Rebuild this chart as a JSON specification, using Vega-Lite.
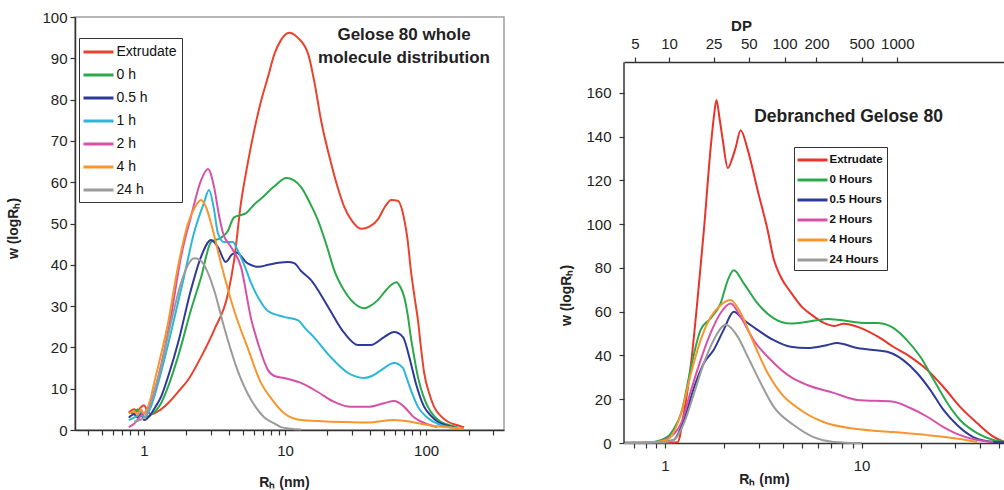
{
  "$schema": "https://vega.github.io/schema/vega-lite/v6.json",
  "background": "white",
  "padding": {"left": 5, "top": 9, "right": 0, "bottom": 0},
  "spacing": 54,
  "config": {
    "font": "Liberation Sans",
    "axis": {"grid": false, "domainColor": "#333", "domainWidth": 1.5, "tickColor": "#333", "tickWidth": 1.2, "tickSize": 5, "labelColor": "#222", "titleColor": "#222", "labelFont": "Liberation Sans", "titleFont": "Liberation Sans", "labelFontSize": 15, "titleFontSize": 14, "titleFontWeight": "bold", "labelOverlap": false, "labelFlush": false}
  },
  "datasets": {
    "whole": [
      {"series": "Extrudate", "Rh": 0.78, "w": 4.2}, {"series": "Extrudate", "Rh": 0.85, "w": 5.0}, {"series": "Extrudate", "Rh": 0.9, "w": 4.5}, {"series": "Extrudate", "Rh": 0.95, "w": 5.5}, {"series": "Extrudate", "Rh": 1.0, "w": 6.0}, {"series": "Extrudate", "Rh": 1.05, "w": 4.8}, {"series": "Extrudate", "Rh": 1.12, "w": 3.8}, {"series": "Extrudate", "Rh": 1.25, "w": 4.5}, {"series": "Extrudate", "Rh": 1.48, "w": 6.5}, {"series": "Extrudate", "Rh": 1.75, "w": 9.3}, {"series": "Extrudate", "Rh": 2.05, "w": 12.1}, {"series": "Extrudate", "Rh": 2.54, "w": 17.7}, {"series": "Extrudate", "Rh": 3.14, "w": 24.2}, {"series": "Extrudate", "Rh": 3.94, "w": 33}, {"series": "Extrudate", "Rh": 4.35, "w": 41}, {"series": "Extrudate", "Rh": 4.87, "w": 55}, {"series": "Extrudate", "Rh": 5.4, "w": 64}, {"series": "Extrudate", "Rh": 6.0, "w": 72}, {"series": "Extrudate", "Rh": 6.8, "w": 80}, {"series": "Extrudate", "Rh": 7.57, "w": 85.5}, {"series": "Extrudate", "Rh": 8.4, "w": 91}, {"series": "Extrudate", "Rh": 9.35, "w": 94.4}, {"series": "Extrudate", "Rh": 10.7, "w": 96.2}, {"series": "Extrudate", "Rh": 12.3, "w": 95}, {"series": "Extrudate", "Rh": 14.6, "w": 91}, {"series": "Extrudate", "Rh": 16.2, "w": 84}, {"series": "Extrudate", "Rh": 18, "w": 75}, {"series": "Extrudate", "Rh": 21.2, "w": 64.6}, {"series": "Extrudate", "Rh": 24, "w": 58}, {"series": "Extrudate", "Rh": 26.3, "w": 54}, {"series": "Extrudate", "Rh": 30, "w": 50.5}, {"series": "Extrudate", "Rh": 34.6, "w": 48.7}, {"series": "Extrudate", "Rh": 40, "w": 49.3}, {"series": "Extrudate", "Rh": 45.6, "w": 51}, {"series": "Extrudate", "Rh": 51, "w": 54}, {"series": "Extrudate", "Rh": 56.5, "w": 55.7}, {"series": "Extrudate", "Rh": 63, "w": 55.5}, {"series": "Extrudate", "Rh": 70, "w": 51}, {"series": "Extrudate", "Rh": 74, "w": 46}, {"series": "Extrudate", "Rh": 78, "w": 38.7}, {"series": "Extrudate", "Rh": 83, "w": 32}, {"series": "Extrudate", "Rh": 87.6, "w": 26.6}, {"series": "Extrudate", "Rh": 92, "w": 20}, {"series": "Extrudate", "Rh": 97, "w": 13.8}, {"series": "Extrudate", "Rh": 105, "w": 9}, {"series": "Extrudate", "Rh": 114, "w": 5.6}, {"series": "Extrudate", "Rh": 128, "w": 3.3}, {"series": "Extrudate", "Rh": 143, "w": 2}, {"series": "Extrudate", "Rh": 165, "w": 1.2}, {"series": "Extrudate", "Rh": 186, "w": 0.6},
      {"series": "0 h", "Rh": 0.78, "w": 4.5}, {"series": "0 h", "Rh": 0.85, "w": 4.0}, {"series": "0 h", "Rh": 0.9, "w": 5.0}, {"series": "0 h", "Rh": 0.95, "w": 4.2}, {"series": "0 h", "Rh": 1.0, "w": 3.1}, {"series": "0 h", "Rh": 1.1, "w": 3.5}, {"series": "0 h", "Rh": 1.2, "w": 4.5}, {"series": "0 h", "Rh": 1.32, "w": 6.5}, {"series": "0 h", "Rh": 1.5, "w": 11}, {"series": "0 h", "Rh": 1.74, "w": 17.7}, {"series": "0 h", "Rh": 2.15, "w": 29}, {"series": "0 h", "Rh": 2.54, "w": 37}, {"series": "0 h", "Rh": 2.99, "w": 45.5}, {"series": "0 h", "Rh": 3.5, "w": 46.5}, {"series": "0 h", "Rh": 3.9, "w": 48}, {"series": "0 h", "Rh": 4.35, "w": 51.5}, {"series": "0 h", "Rh": 5.3, "w": 52.5}, {"series": "0 h", "Rh": 6.0, "w": 54.5}, {"series": "0 h", "Rh": 6.75, "w": 56}, {"series": "0 h", "Rh": 8.4, "w": 59}, {"series": "0 h", "Rh": 10.2, "w": 61}, {"series": "0 h", "Rh": 11.5, "w": 60.5}, {"series": "0 h", "Rh": 13, "w": 58.8}, {"series": "0 h", "Rh": 15, "w": 55}, {"series": "0 h", "Rh": 17.1, "w": 50.8}, {"series": "0 h", "Rh": 20, "w": 44}, {"series": "0 h", "Rh": 22.3, "w": 38.7}, {"series": "0 h", "Rh": 26, "w": 34}, {"series": "0 h", "Rh": 29.3, "w": 31.5}, {"series": "0 h", "Rh": 36.3, "w": 29.5}, {"series": "0 h", "Rh": 40, "w": 30}, {"series": "0 h", "Rh": 45.6, "w": 31.5}, {"series": "0 h", "Rh": 51, "w": 33.5}, {"series": "0 h", "Rh": 56.5, "w": 35.1}, {"series": "0 h", "Rh": 61.3, "w": 35.8}, {"series": "0 h", "Rh": 66, "w": 34.5}, {"series": "0 h", "Rh": 70, "w": 32.2}, {"series": "0 h", "Rh": 74, "w": 28}, {"series": "0 h", "Rh": 78, "w": 22.5}, {"series": "0 h", "Rh": 83, "w": 17}, {"series": "0 h", "Rh": 87.6, "w": 12.8}, {"series": "0 h", "Rh": 95, "w": 8.5}, {"series": "0 h", "Rh": 103, "w": 5.6}, {"series": "0 h", "Rh": 115, "w": 3.2}, {"series": "0 h", "Rh": 127, "w": 2}, {"series": "0 h", "Rh": 145, "w": 1.2}, {"series": "0 h", "Rh": 167, "w": 0.6},
      {"series": "0.5 h", "Rh": 0.78, "w": 3.0}, {"series": "0.5 h", "Rh": 0.85, "w": 3.8}, {"series": "0.5 h", "Rh": 0.9, "w": 3.0}, {"series": "0.5 h", "Rh": 0.95, "w": 4.0}, {"series": "0.5 h", "Rh": 1.0, "w": 2.4}, {"series": "0.5 h", "Rh": 1.1, "w": 3.5}, {"series": "0.5 h", "Rh": 1.2, "w": 5.5}, {"series": "0.5 h", "Rh": 1.32, "w": 8}, {"series": "0.5 h", "Rh": 1.5, "w": 13.5}, {"series": "0.5 h", "Rh": 1.74, "w": 21}, {"series": "0.5 h", "Rh": 2.15, "w": 33.9}, {"series": "0.5 h", "Rh": 2.54, "w": 42}, {"series": "0.5 h", "Rh": 2.99, "w": 46}, {"series": "0.5 h", "Rh": 3.34, "w": 44.3}, {"series": "0.5 h", "Rh": 3.8, "w": 40.7}, {"series": "0.5 h", "Rh": 4.2, "w": 42.5}, {"series": "0.5 h", "Rh": 4.5, "w": 43}, {"series": "0.5 h", "Rh": 5.4, "w": 40.4}, {"series": "0.5 h", "Rh": 6.5, "w": 39.5}, {"series": "0.5 h", "Rh": 7.6, "w": 40}, {"series": "0.5 h", "Rh": 9, "w": 40.5}, {"series": "0.5 h", "Rh": 10.5, "w": 40.7}, {"series": "0.5 h", "Rh": 11.6, "w": 40.4}, {"series": "0.5 h", "Rh": 13, "w": 38.5}, {"series": "0.5 h", "Rh": 15.3, "w": 36.3}, {"series": "0.5 h", "Rh": 20.2, "w": 29.8}, {"series": "0.5 h", "Rh": 26.3, "w": 23.5}, {"series": "0.5 h", "Rh": 32.9, "w": 20.6}, {"series": "0.5 h", "Rh": 40.6, "w": 20.6}, {"series": "0.5 h", "Rh": 50.4, "w": 22.5}, {"series": "0.5 h", "Rh": 59.3, "w": 23.7}, {"series": "0.5 h", "Rh": 68.6, "w": 22.5}, {"series": "0.5 h", "Rh": 76, "w": 17.7}, {"series": "0.5 h", "Rh": 84.5, "w": 11.4}, {"series": "0.5 h", "Rh": 97, "w": 5.6}, {"series": "0.5 h", "Rh": 108, "w": 3.5}, {"series": "0.5 h", "Rh": 121, "w": 2}, {"series": "0.5 h", "Rh": 140, "w": 1.1}, {"series": "0.5 h", "Rh": 158, "w": 0.6},
      {"series": "1 h", "Rh": 0.78, "w": 2.4}, {"series": "1 h", "Rh": 0.85, "w": 3.0}, {"series": "1 h", "Rh": 0.9, "w": 3.5}, {"series": "1 h", "Rh": 0.95, "w": 4.5}, {"series": "1 h", "Rh": 1.0, "w": 3.0}, {"series": "1 h", "Rh": 1.1, "w": 5}, {"series": "1 h", "Rh": 1.26, "w": 11.4}, {"series": "1 h", "Rh": 1.55, "w": 23.5}, {"series": "1 h", "Rh": 1.92, "w": 37}, {"series": "1 h", "Rh": 2.26, "w": 47.7}, {"series": "1 h", "Rh": 2.66, "w": 55}, {"series": "1 h", "Rh": 2.89, "w": 58.1}, {"series": "1 h", "Rh": 3.14, "w": 53.3}, {"series": "1 h", "Rh": 3.34, "w": 47.7}, {"series": "1 h", "Rh": 3.69, "w": 45.5}, {"series": "1 h", "Rh": 4.27, "w": 45.5}, {"series": "1 h", "Rh": 4.6, "w": 43.6}, {"series": "1 h", "Rh": 5.2, "w": 39.5}, {"series": "1 h", "Rh": 5.74, "w": 35.6}, {"series": "1 h", "Rh": 6.6, "w": 31.5}, {"series": "1 h", "Rh": 7.57, "w": 28.8}, {"series": "1 h", "Rh": 9.8, "w": 27.4}, {"series": "1 h", "Rh": 12.3, "w": 26.6}, {"series": "1 h", "Rh": 14, "w": 24.5}, {"series": "1 h", "Rh": 16, "w": 22.5}, {"series": "1 h", "Rh": 21, "w": 17.7}, {"series": "1 h", "Rh": 28, "w": 13.8}, {"series": "1 h", "Rh": 36.3, "w": 12.6}, {"series": "1 h", "Rh": 42, "w": 13.2}, {"series": "1 h", "Rh": 48, "w": 14.5}, {"series": "1 h", "Rh": 59.3, "w": 16.2}, {"series": "1 h", "Rh": 68.6, "w": 15}, {"series": "1 h", "Rh": 73, "w": 12.5}, {"series": "1 h", "Rh": 78, "w": 9.7}, {"series": "1 h", "Rh": 87.6, "w": 5.6}, {"series": "1 h", "Rh": 103, "w": 2.9}, {"series": "1 h", "Rh": 127, "w": 1.2}, {"series": "1 h", "Rh": 153, "w": 0.6},
      {"series": "2 h", "Rh": 0.78, "w": 0.7}, {"series": "2 h", "Rh": 0.85, "w": 1.5}, {"series": "2 h", "Rh": 0.9, "w": 2.5}, {"series": "2 h", "Rh": 0.95, "w": 3.5}, {"series": "2 h", "Rh": 1.0, "w": 4.0}, {"series": "2 h", "Rh": 1.1, "w": 6}, {"series": "2 h", "Rh": 1.26, "w": 12.8}, {"series": "2 h", "Rh": 1.55, "w": 27.4}, {"series": "2 h", "Rh": 1.83, "w": 42}, {"series": "2 h", "Rh": 2.15, "w": 51.6}, {"series": "2 h", "Rh": 2.54, "w": 60.5}, {"series": "2 h", "Rh": 2.84, "w": 63.2}, {"series": "2 h", "Rh": 3.14, "w": 58.8}, {"series": "2 h", "Rh": 3.4, "w": 52}, {"series": "2 h", "Rh": 3.63, "w": 47.7}, {"series": "2 h", "Rh": 4.14, "w": 44.3}, {"series": "2 h", "Rh": 4.87, "w": 39.5}, {"series": "2 h", "Rh": 5.74, "w": 27}, {"series": "2 h", "Rh": 6.5, "w": 20.5}, {"series": "2 h", "Rh": 7.57, "w": 14.5}, {"series": "2 h", "Rh": 8.5, "w": 13}, {"series": "2 h", "Rh": 9.85, "w": 12.6}, {"series": "2 h", "Rh": 13, "w": 11.4}, {"series": "2 h", "Rh": 17.1, "w": 9.2}, {"series": "2 h", "Rh": 22.3, "w": 6.8}, {"series": "2 h", "Rh": 29.3, "w": 5.6}, {"series": "2 h", "Rh": 38.7, "w": 5.6}, {"series": "2 h", "Rh": 50.4, "w": 6.5}, {"series": "2 h", "Rh": 59.3, "w": 7.0}, {"series": "2 h", "Rh": 70, "w": 5.6}, {"series": "2 h", "Rh": 82, "w": 3.1}, {"series": "2 h", "Rh": 97, "w": 1.7}, {"series": "2 h", "Rh": 120, "w": 0.7},
      {"series": "4 h", "Rh": 0.78, "w": 4.0}, {"series": "4 h", "Rh": 0.85, "w": 4.5}, {"series": "4 h", "Rh": 0.9, "w": 3.8}, {"series": "4 h", "Rh": 0.95, "w": 5}, {"series": "4 h", "Rh": 1.0, "w": 4.0}, {"series": "4 h", "Rh": 1.1, "w": 7}, {"series": "4 h", "Rh": 1.18, "w": 11.4}, {"series": "4 h", "Rh": 1.48, "w": 25.9}, {"series": "4 h", "Rh": 1.74, "w": 39.5}, {"series": "4 h", "Rh": 2.05, "w": 50}, {"series": "4 h", "Rh": 2.3, "w": 54}, {"series": "4 h", "Rh": 2.54, "w": 55.7}, {"series": "4 h", "Rh": 2.75, "w": 54}, {"series": "4 h", "Rh": 2.99, "w": 50}, {"series": "4 h", "Rh": 3.51, "w": 40.4}, {"series": "4 h", "Rh": 4.35, "w": 29}, {"series": "4 h", "Rh": 5.5, "w": 19.4}, {"series": "4 h", "Rh": 6.75, "w": 11.4}, {"series": "4 h", "Rh": 7.95, "w": 7.7}, {"series": "4 h", "Rh": 9.8, "w": 4.1}, {"series": "4 h", "Rh": 13, "w": 2.4}, {"series": "4 h", "Rh": 22, "w": 2.0}, {"series": "4 h", "Rh": 38.7, "w": 1.8}, {"series": "4 h", "Rh": 59, "w": 2.4}, {"series": "4 h", "Rh": 78, "w": 2.0}, {"series": "4 h", "Rh": 103, "w": 1.2}, {"series": "4 h", "Rh": 150, "w": 0.6}, {"series": "4 h", "Rh": 185, "w": 0.3},
      {"series": "24 h", "Rh": 0.85, "w": 2.0}, {"series": "24 h", "Rh": 1.0, "w": 3.0}, {"series": "24 h", "Rh": 1.1, "w": 6}, {"series": "24 h", "Rh": 1.32, "w": 15.3}, {"series": "24 h", "Rh": 1.55, "w": 25.9}, {"series": "24 h", "Rh": 1.83, "w": 35.6}, {"series": "24 h", "Rh": 2.05, "w": 40}, {"series": "24 h", "Rh": 2.26, "w": 41.6}, {"series": "24 h", "Rh": 2.45, "w": 41.3}, {"series": "24 h", "Rh": 2.66, "w": 40}, {"series": "24 h", "Rh": 3.14, "w": 33.9}, {"series": "24 h", "Rh": 3.69, "w": 25}, {"series": "24 h", "Rh": 4.6, "w": 14.5}, {"series": "24 h", "Rh": 5.74, "w": 7.3}, {"series": "24 h", "Rh": 7.1, "w": 3.1}, {"series": "24 h", "Rh": 8.5, "w": 1.5}, {"series": "24 h", "Rh": 9.35, "w": 0.7}, {"series": "24 h", "Rh": 11, "w": 0.3}, {"series": "24 h", "Rh": 13, "w": 0.1}
    ],
    "deb": [
      {"series": "Extrudate", "Rh": 0.62, "w": 0}, {"series": "Extrudate", "Rh": 1.0, "w": 0}, {"series": "Extrudate", "Rh": 1.16, "w": 0.3}, {"series": "Extrudate", "Rh": 1.25, "w": 13.7}, {"series": "Extrudate", "Rh": 1.36, "w": 36.6}, {"series": "Extrudate", "Rh": 1.47, "w": 66.7}, {"series": "Extrudate", "Rh": 1.58, "w": 97.4}, {"series": "Extrudate", "Rh": 1.71, "w": 135}, {"series": "Extrudate", "Rh": 1.78, "w": 150}, {"series": "Extrudate", "Rh": 1.83, "w": 156.8}, {"series": "Extrudate", "Rh": 1.9, "w": 148}, {"series": "Extrudate", "Rh": 1.97, "w": 138.5}, {"series": "Extrudate", "Rh": 2.09, "w": 125.7}, {"series": "Extrudate", "Rh": 2.2, "w": 130}, {"series": "Extrudate", "Rh": 2.29, "w": 135}, {"series": "Extrudate", "Rh": 2.43, "w": 143}, {"series": "Extrudate", "Rh": 2.64, "w": 134}, {"series": "Extrudate", "Rh": 2.96, "w": 115.7}, {"series": "Extrudate", "Rh": 3.33, "w": 97.4}, {"series": "Extrudate", "Rh": 3.58, "w": 84}, {"series": "Extrudate", "Rh": 3.88, "w": 76}, {"series": "Extrudate", "Rh": 4.36, "w": 69}, {"series": "Extrudate", "Rh": 5.0, "w": 62}, {"series": "Extrudate", "Rh": 5.5, "w": 59}, {"series": "Extrudate", "Rh": 6.4, "w": 55}, {"series": "Extrudate", "Rh": 7.3, "w": 53.5}, {"series": "Extrudate", "Rh": 8.1, "w": 54.5}, {"series": "Extrudate", "Rh": 9.86, "w": 52.6}, {"series": "Extrudate", "Rh": 12.1, "w": 48.6}, {"series": "Extrudate", "Rh": 14.5, "w": 44}, {"series": "Extrudate", "Rh": 17.7, "w": 39.4}, {"series": "Extrudate", "Rh": 21.6, "w": 33.4}, {"series": "Extrudate", "Rh": 26.1, "w": 25.6}, {"series": "Extrudate", "Rh": 31.7, "w": 16.5}, {"series": "Extrudate", "Rh": 38.7, "w": 9.1}, {"series": "Extrudate", "Rh": 46.8, "w": 2.9}, {"series": "Extrudate", "Rh": 53, "w": 0.5},
      {"series": "0 Hours", "Rh": 0.62, "w": 0}, {"series": "0 Hours", "Rh": 0.8, "w": 0.2}, {"series": "0 Hours", "Rh": 0.88, "w": 0.5}, {"series": "0 Hours", "Rh": 1.03, "w": 2.8}, {"series": "0 Hours", "Rh": 1.12, "w": 7}, {"series": "0 Hours", "Rh": 1.21, "w": 13.6}, {"series": "0 Hours", "Rh": 1.36, "w": 34.9}, {"series": "0 Hours", "Rh": 1.52, "w": 51.7}, {"series": "0 Hours", "Rh": 1.71, "w": 57}, {"series": "0 Hours", "Rh": 1.92, "w": 63.8}, {"series": "0 Hours", "Rh": 2.09, "w": 74.5}, {"series": "0 Hours", "Rh": 2.24, "w": 79}, {"series": "0 Hours", "Rh": 2.52, "w": 73}, {"series": "0 Hours", "Rh": 2.96, "w": 63.8}, {"series": "0 Hours", "Rh": 3.58, "w": 57}, {"series": "0 Hours", "Rh": 4.36, "w": 54.6}, {"series": "0 Hours", "Rh": 5.3, "w": 55.4}, {"series": "0 Hours", "Rh": 6.7, "w": 56.7}, {"series": "0 Hours", "Rh": 7.8, "w": 56.2}, {"series": "0 Hours", "Rh": 9.86, "w": 55}, {"series": "0 Hours", "Rh": 12.1, "w": 54.8}, {"series": "0 Hours", "Rh": 14.5, "w": 52.6}, {"series": "0 Hours", "Rh": 17, "w": 47}, {"series": "0 Hours", "Rh": 19.9, "w": 39.4}, {"series": "0 Hours", "Rh": 23.3, "w": 28.8}, {"series": "0 Hours", "Rh": 27.3, "w": 18.3}, {"series": "0 Hours", "Rh": 31.7, "w": 10.5}, {"series": "0 Hours", "Rh": 38.7, "w": 4.5}, {"series": "0 Hours", "Rh": 46.8, "w": 1.4}, {"series": "0 Hours", "Rh": 53, "w": 0.6},
      {"series": "0.5 Hours", "Rh": 0.62, "w": 0}, {"series": "0.5 Hours", "Rh": 0.85, "w": 0}, {"series": "0.5 Hours", "Rh": 1.0, "w": 0.6}, {"series": "0.5 Hours", "Rh": 1.11, "w": 1.4}, {"series": "0.5 Hours", "Rh": 1.25, "w": 10.5}, {"series": "0.5 Hours", "Rh": 1.41, "w": 25.6}, {"series": "0.5 Hours", "Rh": 1.58, "w": 36.6}, {"series": "0.5 Hours", "Rh": 1.77, "w": 42.5}, {"series": "0.5 Hours", "Rh": 1.99, "w": 51.7}, {"series": "0.5 Hours", "Rh": 2.24, "w": 60}, {"series": "0.5 Hours", "Rh": 2.52, "w": 56.2}, {"series": "0.5 Hours", "Rh": 2.96, "w": 51.7}, {"series": "0.5 Hours", "Rh": 3.58, "w": 47}, {"series": "0.5 Hours", "Rh": 4.36, "w": 44}, {"series": "0.5 Hours", "Rh": 5.3, "w": 43.4}, {"series": "0.5 Hours", "Rh": 6.7, "w": 44.8}, {"series": "0.5 Hours", "Rh": 7.5, "w": 45.7}, {"series": "0.5 Hours", "Rh": 9.5, "w": 43.4}, {"series": "0.5 Hours", "Rh": 13.5, "w": 41.7}, {"series": "0.5 Hours", "Rh": 16.3, "w": 37.9}, {"series": "0.5 Hours", "Rh": 19.2, "w": 31.9}, {"series": "0.5 Hours", "Rh": 22.4, "w": 24.2}, {"series": "0.5 Hours", "Rh": 26.1, "w": 15.1}, {"series": "0.5 Hours", "Rh": 30.6, "w": 8.2}, {"series": "0.5 Hours", "Rh": 37, "w": 2.7}, {"series": "0.5 Hours", "Rh": 46.8, "w": 0.5}, {"series": "0.5 Hours", "Rh": 53, "w": 0.3},
      {"series": "2 Hours", "Rh": 0.62, "w": 0}, {"series": "2 Hours", "Rh": 0.9, "w": 0.3}, {"series": "2 Hours", "Rh": 1.03, "w": 2}, {"series": "2 Hours", "Rh": 1.21, "w": 9}, {"series": "2 Hours", "Rh": 1.36, "w": 24.2}, {"series": "2 Hours", "Rh": 1.52, "w": 37.9}, {"series": "2 Hours", "Rh": 1.71, "w": 50.3}, {"series": "2 Hours", "Rh": 1.92, "w": 59.4}, {"series": "2 Hours", "Rh": 2.16, "w": 63.8}, {"series": "2 Hours", "Rh": 2.43, "w": 57.6}, {"series": "2 Hours", "Rh": 2.83, "w": 47}, {"series": "2 Hours", "Rh": 3.58, "w": 36.6}, {"series": "2 Hours", "Rh": 4.36, "w": 30.2}, {"series": "2 Hours", "Rh": 5.3, "w": 26.5}, {"series": "2 Hours", "Rh": 7.2, "w": 22.9}, {"series": "2 Hours", "Rh": 9.5, "w": 19.7}, {"series": "2 Hours", "Rh": 14.5, "w": 18.9}, {"series": "2 Hours", "Rh": 17.7, "w": 16}, {"series": "2 Hours", "Rh": 21.6, "w": 12}, {"series": "2 Hours", "Rh": 26.1, "w": 7.3}, {"series": "2 Hours", "Rh": 31.7, "w": 3.6}, {"series": "2 Hours", "Rh": 38.7, "w": 1.4}, {"series": "2 Hours", "Rh": 46.8, "w": 0.5},
      {"series": "4 Hours", "Rh": 0.62, "w": 0.3}, {"series": "4 Hours", "Rh": 0.9, "w": 0.5}, {"series": "4 Hours", "Rh": 1.03, "w": 1.5}, {"series": "4 Hours", "Rh": 1.21, "w": 13.6}, {"series": "4 Hours", "Rh": 1.36, "w": 32}, {"series": "4 Hours", "Rh": 1.52, "w": 47}, {"series": "4 Hours", "Rh": 1.71, "w": 57.6}, {"series": "4 Hours", "Rh": 1.92, "w": 63}, {"series": "4 Hours", "Rh": 2.16, "w": 65.4}, {"series": "4 Hours", "Rh": 2.43, "w": 59.4}, {"series": "4 Hours", "Rh": 2.83, "w": 45.7}, {"series": "4 Hours", "Rh": 3.33, "w": 32}, {"series": "4 Hours", "Rh": 3.88, "w": 22.9}, {"series": "4 Hours", "Rh": 4.9, "w": 15.1}, {"series": "4 Hours", "Rh": 6.4, "w": 9.6}, {"series": "4 Hours", "Rh": 9.5, "w": 6.4}, {"series": "4 Hours", "Rh": 14.5, "w": 5}, {"series": "4 Hours", "Rh": 21.6, "w": 3.6}, {"series": "4 Hours", "Rh": 31.7, "w": 1.8}, {"series": "4 Hours", "Rh": 38.7, "w": 0.5},
      {"series": "24 Hours", "Rh": 0.62, "w": 0}, {"series": "24 Hours", "Rh": 0.95, "w": 0.3}, {"series": "24 Hours", "Rh": 1.11, "w": 1.4}, {"series": "24 Hours", "Rh": 1.25, "w": 9}, {"series": "24 Hours", "Rh": 1.41, "w": 22.9}, {"series": "24 Hours", "Rh": 1.58, "w": 36.6}, {"series": "24 Hours", "Rh": 1.77, "w": 47}, {"series": "24 Hours", "Rh": 2.04, "w": 54}, {"series": "24 Hours", "Rh": 2.35, "w": 48.5}, {"series": "24 Hours", "Rh": 2.64, "w": 39.4}, {"series": "24 Hours", "Rh": 3.07, "w": 27.4}, {"series": "24 Hours", "Rh": 3.58, "w": 16.5}, {"series": "24 Hours", "Rh": 4.52, "w": 8.2}, {"series": "24 Hours", "Rh": 5.7, "w": 2.7}, {"series": "24 Hours", "Rh": 7.2, "w": 0.5}, {"series": "24 Hours", "Rh": 10, "w": 0}
    ]
  },
  "hconcat": [
    {
      "width": 429,
      "height": 413,
      "view": {"stroke": "#a0a0a0", "strokeWidth": 1.5},
      "layer": [
        {
          "data": {"name": "whole"},
          "mark": {"type": "line", "strokeWidth": 2, "interpolate": "monotone"},
          "encoding": {
            "x": {"field": "Rh", "type": "quantitative", "scale": {"type": "log", "domain": [0.324, 357], "nice": false},
              "axis": {"values": [0.4, 0.5, 0.6, 0.7, 0.8, 0.9, 1, 2, 3, 4, 5, 6, 7, 8, 9, 10, 20, 30, 40, 50, 60, 70, 80, 90, 100, 200, 300],
                "labelExpr": "datum.value == 1 || datum.value == 10 || datum.value == 100 ? datum.value + '' : ''",
                "labelPadding": 8, "title": "Rₕ (nm)", "titleX": 209, "titleY": 52, "titleBaseline": "middle"}},
            "y": {"field": "w", "type": "quantitative", "scale": {"domain": [0, 100], "nice": false},
              "axis": {"values": [0, 10, 20, 30, 40, 50, 60, 70, 80, 90, 100], "labelPadding": 3, "title": "w (logRₕ)", "titleX": -62, "titleY": 211, "titleBaseline": "middle", "titleAlign": "center"}},
            "color": {"field": "series", "type": "nominal",
              "scale": {"domain": ["Extrudate", "0 h", "0.5 h", "1 h", "2 h", "4 h", "24 h"], "range": ["#e8432d", "#2aa84a", "#2e3a96", "#2ab7d8", "#d552a8", "#f7962e", "#9b9b9b"]},
              "legend": {"title": null, "orient": "none", "legendX": 4, "legendY": 21, "symbolType": "M-2,0H2", "symbolSize": 225, "symbolOffset": 5.5, "symbolStrokeWidth": 3, "labelFontSize": 14, "labelFont": "Liberation Sans", "labelColor": "#111", "strokeColor": "#333", "fillColor": "white", "padding": 5, "rowPadding": 7, "labelOffset": 9}}
          }
        },
        {
          "data": {"values": [{"Rh": 69.8, "w": 97.5, "label": "Gelose 80 whole\nmolecule distribution"}]},
          "mark": {"type": "text", "font": "Liberation Sans", "fontWeight": "bold", "fontSize": 17, "align": "center", "baseline": "top", "lineBreak": "\n", "lineHeight": 23, "color": "#222"},
          "encoding": {"x": {"field": "Rh", "type": "quantitative"}, "y": {"field": "w", "type": "quantitative"}, "text": {"field": "label"}}
        }
      ]
    },
    {
      "width": 380,
      "height": 426,
      "view": {"stroke": null},
      "resolve": {"axis": {"x": "independent"}},
      "layer": [
        {
          "data": {"name": "deb"},
          "mark": {"type": "line", "strokeWidth": 2, "interpolate": "monotone"},
          "encoding": {
            "x": {"field": "Rh", "type": "quantitative", "scale": {"type": "log", "domain": [0.62, 53], "nice": false},
              "axis": {"values": [0.7, 0.8, 0.9, 1, 2, 3, 4, 5, 6, 7, 8, 9, 10, 20, 30, 40, 50],
                "labelExpr": "datum.value == 1 || datum.value == 10 ? datum.value + '' : ''",
                "labelPadding": 10, "title": "Rₕ (nm)", "titleX": 140, "titleY": 36, "titleBaseline": "middle"}},
            "y": {"field": "w", "type": "quantitative", "scale": {"domain": [0, 194.74], "nice": false},
              "axis": {"values": [0, 20, 40, 60, 80, 100, 120, 140, 160], "domain": false, "labelPadding": 8, "title": "w (logRₕ)", "titleX": -58, "titleY": 278, "titleBaseline": "middle", "titleAlign": "center"}},
            "color": {"field": "series", "type": "nominal",
              "scale": {"domain": ["Extrudate", "0 Hours", "0.5 Hours", "2 Hours", "4 Hours", "24 Hours"], "range": ["#e8342a", "#2aa84a", "#2e3a96", "#d552a8", "#f7962e", "#9b9b9b"]},
              "legend": {"title": null, "orient": "none", "legendX": 170, "legendY": 130, "symbolType": "M-2,0H2", "symbolSize": 225, "symbolOffset": 5.5, "symbolStrokeWidth": 3, "labelFontSize": 11.5, "labelFontWeight": "bold", "labelFont": "Liberation Sans", "labelColor": "#111", "strokeColor": "#333", "fillColor": "white", "padding": 4, "rowPadding": 5, "labelOffset": 8}}
          }
        },
        {
          "data": {"values": [{"Rh": 0.62, "w": 0, "w2": 174}]},
          "mark": {"type": "rule", "color": "#333", "strokeWidth": 1.5},
          "encoding": {"x": {"field": "Rh", "type": "quantitative", "axis": null}, "y": {"field": "w", "type": "quantitative"}, "y2": {"field": "w2"}}
        },
        {
          "data": {"values": [{"Rh": 8.59, "w": 149, "label": "Debranched Gelose 80"}]},
          "mark": {"type": "text", "font": "Liberation Sans", "fontWeight": "bold", "fontSize": 17.5, "align": "center", "baseline": "middle", "color": "#222"},
          "encoding": {"x": {"field": "Rh", "type": "quantitative", "axis": null}, "y": {"field": "w", "type": "quantitative"}, "text": {"field": "label"}}
        },
        {
          "data": {"values": [{"Rh": 0.705}, {"Rh": 15.2}]},
          "mark": {"type": "point", "opacity": 0},
          "encoding": {
            "x": {"field": "Rh", "type": "quantitative", "scale": {"type": "log", "domain": [0.62, 53], "nice": false},
              "axis": {"orient": "top", "offset": -45, "values": [0.705, 1.05, 1.77, 2.67, 4.06, 5.9, 10, 15.2],
                "labelExpr": "datum.value < 0.8 ? '5' : datum.value < 1.2 ? '10' : datum.value < 2 ? '25' : datum.value < 3 ? '50' : datum.value < 5 ? '100' : datum.value < 7 ? '200' : datum.value < 12 ? '500' : '1000'",
                "labelPadding": 6, "title": "DP", "titleX": 117, "titleY": -37, "titleBaseline": "middle", "titleFontSize": 15}}
          }
        }
      ]
    }
  ],
  "resolve": {"scale": {"color": "independent"}, "legend": {"color": "independent"}}
}
